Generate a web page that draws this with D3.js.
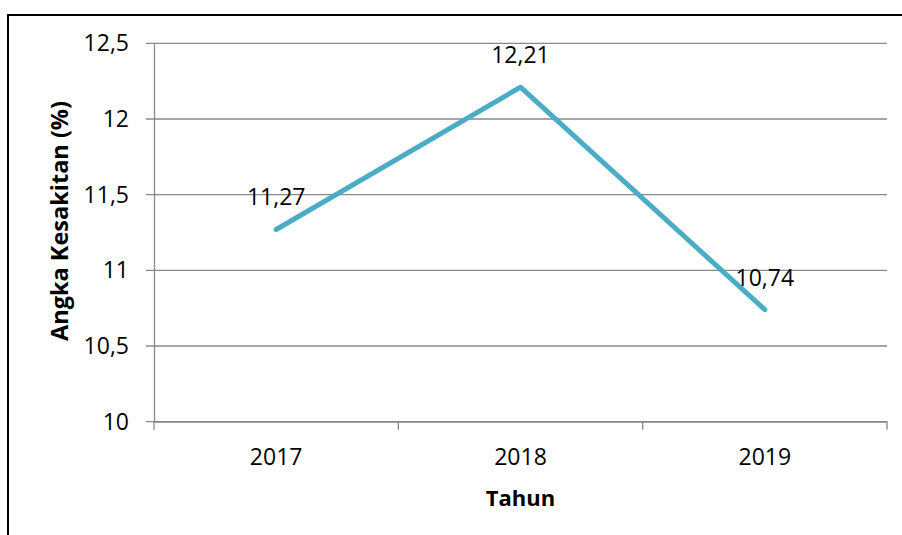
<!DOCTYPE html>
<html>
<head>
<meta charset="utf-8">
<script src="https://cdn.jsdelivr.net/npm/d3@7"></script>
<style>
  body { margin: 0; background: #fff; }
  svg { display: block; font-family: "Open Sans", sans-serif; }
</style>
</head>
<body>
<div id="chart"></div>
<script>
// data
var years = ["2017", "2018", "2019"];
var values = [11.27, 12.21, 10.74];
var labels = ["11,27", "12,21", "10,74"];
var yTicks = [10, 10.5, 11, 11.5, 12, 12.5];
var yTickLabels = ["10", "10,5", "11", "11,5", "12", "12,5"];

var W = 902, H = 535;
var plot = {left: 154, right: 887, top: 43.3, bottom: 421.7};

var svg = d3.select("#chart").append("svg")
    .attr("width", W)
    .attr("height", H);

// chart frame (only top and left edge are visible in the crop)
svg.append("path")
    .attr("d", "M8,540 L8,15 L910,15")
    .attr("fill", "none")
    .attr("stroke", "#000")
    .attr("stroke-width", 2);

var x = d3.scaleBand().domain(years).range([plot.left, plot.right]).padding(0);
var y = d3.scaleLinear().domain([10, 12.5]).range([plot.bottom, plot.top]);

// gridlines
svg.append("g")
  .selectAll("line")
  .data(yTicks)
  .join("line")
    .attr("x1", plot.left - 8)
    .attr("x2", plot.right)
    .attr("y1", function(d) { return y(d); })
    .attr("y2", function(d) { return y(d); })
    .attr("stroke", "#898989")
    .attr("stroke-width", 1.3);

// y axis
var yAxis = d3.axisLeft(y)
    .tickValues(yTicks)
    .tickSize(0)
    .tickPadding(25)
    .tickFormat(function(d, i) { return yTickLabels[i]; });
var gy = svg.append("g")
    .attr("transform", "translate(" + plot.left + ",0)")
    .call(yAxis);
gy.select(".domain").attr("stroke", "#898989").attr("stroke-width", 1.3);
gy.selectAll("text").attr("font-size", 23).attr("fill", "#000")
    .attr("font-family", "Open Sans, sans-serif");

// x axis
var xAxis = d3.axisBottom(x).tickSize(0).tickPadding(27);
var gx = svg.append("g")
    .attr("transform", "translate(0," + plot.bottom + ")")
    .call(xAxis);
gx.select(".domain").attr("stroke", "#898989").attr("stroke-width", 1.3);
gx.selectAll("text").attr("font-size", 23).attr("fill", "#000")
    .attr("font-family", "Open Sans, sans-serif");

// category boundary ticks
var bounds = years.map(function(d) { return x(d); }).concat([x(years[years.length - 1]) + x.bandwidth()]);
svg.append("g")
  .selectAll("line")
  .data(bounds)
  .join("line")
    .attr("x1", function(d) { return d; })
    .attr("x2", function(d) { return d; })
    .attr("y1", plot.bottom)
    .attr("y2", plot.bottom + 8)
    .attr("stroke", "#898989")
    .attr("stroke-width", 1.3);

// line
var data = years.map(function(d, i) { return {year: d, value: values[i], label: labels[i]}; });
svg.append("path")
    .datum(data)
    .attr("fill", "none")
    .attr("stroke", "#4BACC6")
    .attr("stroke-width", 5)
    .attr("stroke-linecap", "round")
    .attr("stroke-linejoin", "round")
    .attr("d", d3.line()
      .x(function(d) { return x(d.year) + x.bandwidth() / 2; })
      .y(function(d) { return y(d.value); }));

// data labels
svg.append("g")
  .selectAll("text")
  .data(data)
  .join("text")
    .attr("x", function(d) { return x(d.year) + x.bandwidth() / 2; })
    .attr("y", function(d) { return y(d.value) - 24; })
    .attr("text-anchor", "middle")
    .attr("font-size", 23)
    .text(function(d) { return d.label; });

// axis titles
svg.append("text")
    .attr("x", (plot.left + plot.right) / 2)
    .attr("y", 506)
    .attr("text-anchor", "middle")
    .attr("font-size", 22)
    .attr("font-weight", "bold")
    .text("Tahun");

svg.append("text")
    .attr("transform", "translate(68,221) rotate(-90)")
    .attr("text-anchor", "middle")
    .attr("font-size", 23.5)
    .attr("font-weight", "bold")
    .text("Angka Kesakitan (%)");
</script>
</body>
</html>
